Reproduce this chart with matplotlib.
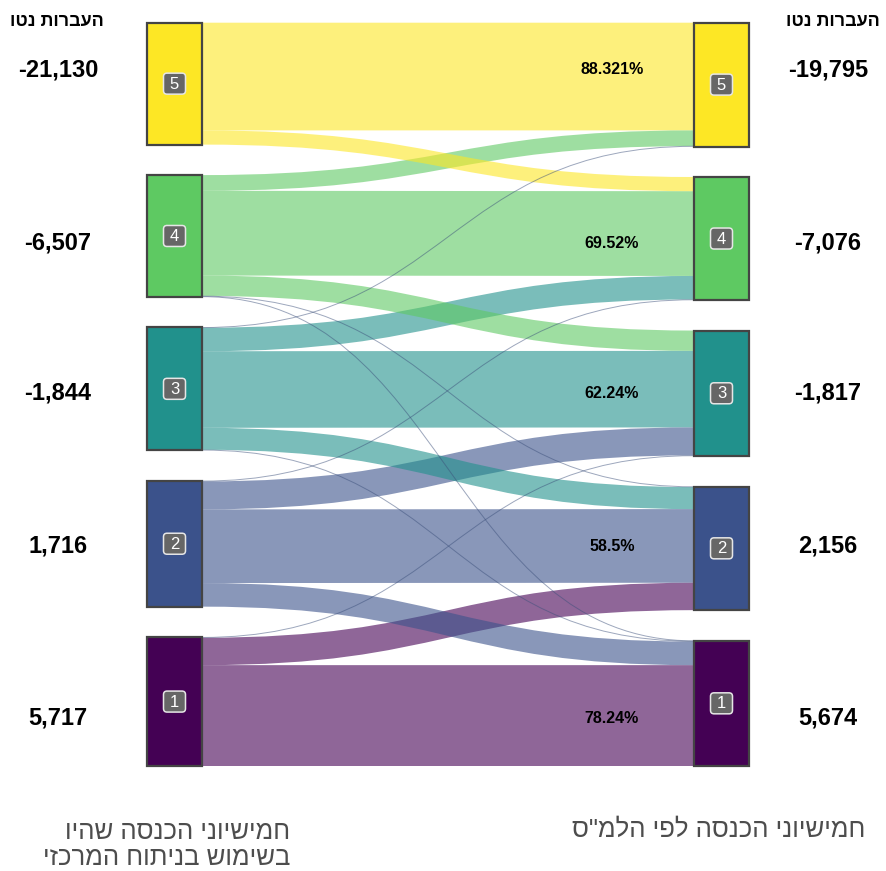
import numpy as np
import matplotlib
matplotlib.use("Agg")
import matplotlib.pyplot as plt
from matplotlib.path import Path
from matplotlib.patches import PathPatch, Rectangle, FancyBboxPatch

# ---------------- data ----------------
quintiles = ["5", "4", "3", "2", "1"]
# flows[source][target], source = left quintile, target = right quintile (order 5..1)
flows = np.array([
    [107.75, 14.20, 0.00, 0.00, 0.00],
    [15.70, 84.80, 20.30, 0.60, 0.40],
    [0.40, 23.50, 76.60, 22.00, 0.50],
    [0.00, 0.60, 28.00, 73.70, 23.60],
    [0.00, 0.00, 0.60, 27.40, 100.90],
])
stay_labels = ["88.321%", "69.52%", "62.24%", "58.5%", "78.24%"]
left_net = ["-21,130", "-6,507", "-1,844", "1,716", "5,717"]
right_net = ["-19,795", "-7,076", "-1,817", "2,156", "5,674"]
header = "העברות נטו"
left_caption = "חמישיוני הכנסה שהיו\nבשימוש בניתוח המרכזי"
right_caption = 'חמישיוני הכנסה לפי הלמ"ס'

# ---------------- style / layout ----------------
node_colors = ["#fde725", "#5ec962", "#21918c", "#3b528b", "#440154"]
W, H = 887, 871
top, bottom, pad = 22.7, 766.0, 30.5
xl0, xl1 = 147, 202
xr0, xr1 = 694, 749
row_text_y = [70, 243, 393, 546, 718]
HEB = ["Liberation Sans", "DejaVu Sans"]


def rtl(s):
    return "\n".join(line[::-1] for line in s.split("\n"))


fig = plt.figure(figsize=(W / 100, H / 100), dpi=100)
ax = fig.add_axes([0, 0, 1, 1])
ax.set_xlim(0, W)
ax.set_ylim(H, 0)
ax.axis("off")

n = len(quintiles)
total = flows.sum()
scale = (bottom - top - (n - 1) * pad) / total
left_sizes = flows.sum(axis=1) * scale
right_sizes = flows.sum(axis=0) * scale
left_y = [top + left_sizes[:i].sum() + i * pad for i in range(n)]
right_y = [top + right_sizes[:j].sum() + j * pad for j in range(n)]

src_off = np.zeros((n, n))
for i in range(n):
    acc = left_y[i]
    for j in range(n):
        src_off[i, j] = acc
        acc += flows[i, j] * scale
tgt_off = np.zeros((n, n))
for j in range(n):
    acc = right_y[j]
    for i in range(n):
        tgt_off[i, j] = acc
        acc += flows[i, j] * scale

xm = (xl1 + xr0) / 2
order = sorted([(i, j) for i in range(n) for j in range(n)], key=lambda t: -flows[t])
for i, j in order:
    if flows[i, j] <= 0:
        continue
    w = flows[i, j] * scale
    s0 = src_off[i, j]
    t0 = tgt_off[i, j]
    if w >= 1.5:
        verts = [
            (xl1, s0), (xm, s0), (xm, t0), (xr0, t0),
            (xr0, t0 + w), (xm, t0 + w), (xm, s0 + w), (xl1, s0 + w),
            (xl1, s0),
        ]
        codes = [Path.MOVETO, Path.CURVE4, Path.CURVE4, Path.CURVE4,
                 Path.LINETO, Path.CURVE4, Path.CURVE4, Path.CURVE4,
                 Path.CLOSEPOLY]
        ax.add_patch(PathPatch(Path(verts, codes), facecolor=node_colors[i],
                               edgecolor="none", alpha=0.6, zorder=1))
    else:
        c = s0 + w / 2
        d = t0 + w / 2
        line = Path([(xl1, c), (xm, c), (xm, d), (xr0, d)],
                    [Path.MOVETO, Path.CURVE4, Path.CURVE4, Path.CURVE4])
        ax.add_patch(PathPatch(line, facecolor="none", edgecolor="#3b4f7a",
                               lw=0.7, alpha=0.5, zorder=1))

# nodes
for k in range(n):
    for x0, x1, y0, h in [(xl0, xl1, left_y[k], left_sizes[k]),
                          (xr0, xr1, right_y[k], right_sizes[k])]:
        ax.add_patch(Rectangle((x0, y0), x1 - x0, h, facecolor=node_colors[k],
                               edgecolor="#444444", lw=1.6, zorder=3))
        cx, cy = (x0 + x1) / 2, y0 + h / 2
        ax.add_patch(FancyBboxPatch((cx - 11, cy - 10.5), 22, 21,
                                    boxstyle="round,pad=0,rounding_size=3.5",
                                    fc="#666666", ec="#e6e6e6", lw=1.1, zorder=4))
        ax.text(cx, cy + 0.5, quintiles[k], ha="center", va="center",
                color="white", fontsize=12, family=HEB, zorder=5)

# percent labels on staying flows
for k in range(n):
    ax.text(612, row_text_y[k], stay_labels[k], ha="center", va="center",
            fontsize=11.5, fontweight="bold", family=HEB, color="black", zorder=5)

# net transfer labels
ax.text(57, 22, rtl(header), ha="center", va="center", fontsize=13,
        fontweight="bold", family=HEB, color="black")
ax.text(833, 22, rtl(header), ha="center", va="center", fontsize=13,
        fontweight="bold", family=HEB, color="black")
for k in range(n):
    ax.text(58, row_text_y[k], left_net[k], ha="center", va="center",
            fontsize=17, fontweight="bold", family=HEB, color="black")
    ax.text(828, row_text_y[k], right_net[k], ha="center", va="center",
            fontsize=17, fontweight="bold", family=HEB, color="black")

# captions
ax.text(290, 845, rtl(left_caption), ha="right", va="center", multialignment="right",
        fontsize=18.5, family=HEB, color="#4d4d4d", linespacing=1.15)
ax.text(865, 830, rtl(right_caption), ha="right", va="center",
        fontsize=18.5, family=HEB, color="#4d4d4d")

fig.savefig("out.png", dpi=100)
